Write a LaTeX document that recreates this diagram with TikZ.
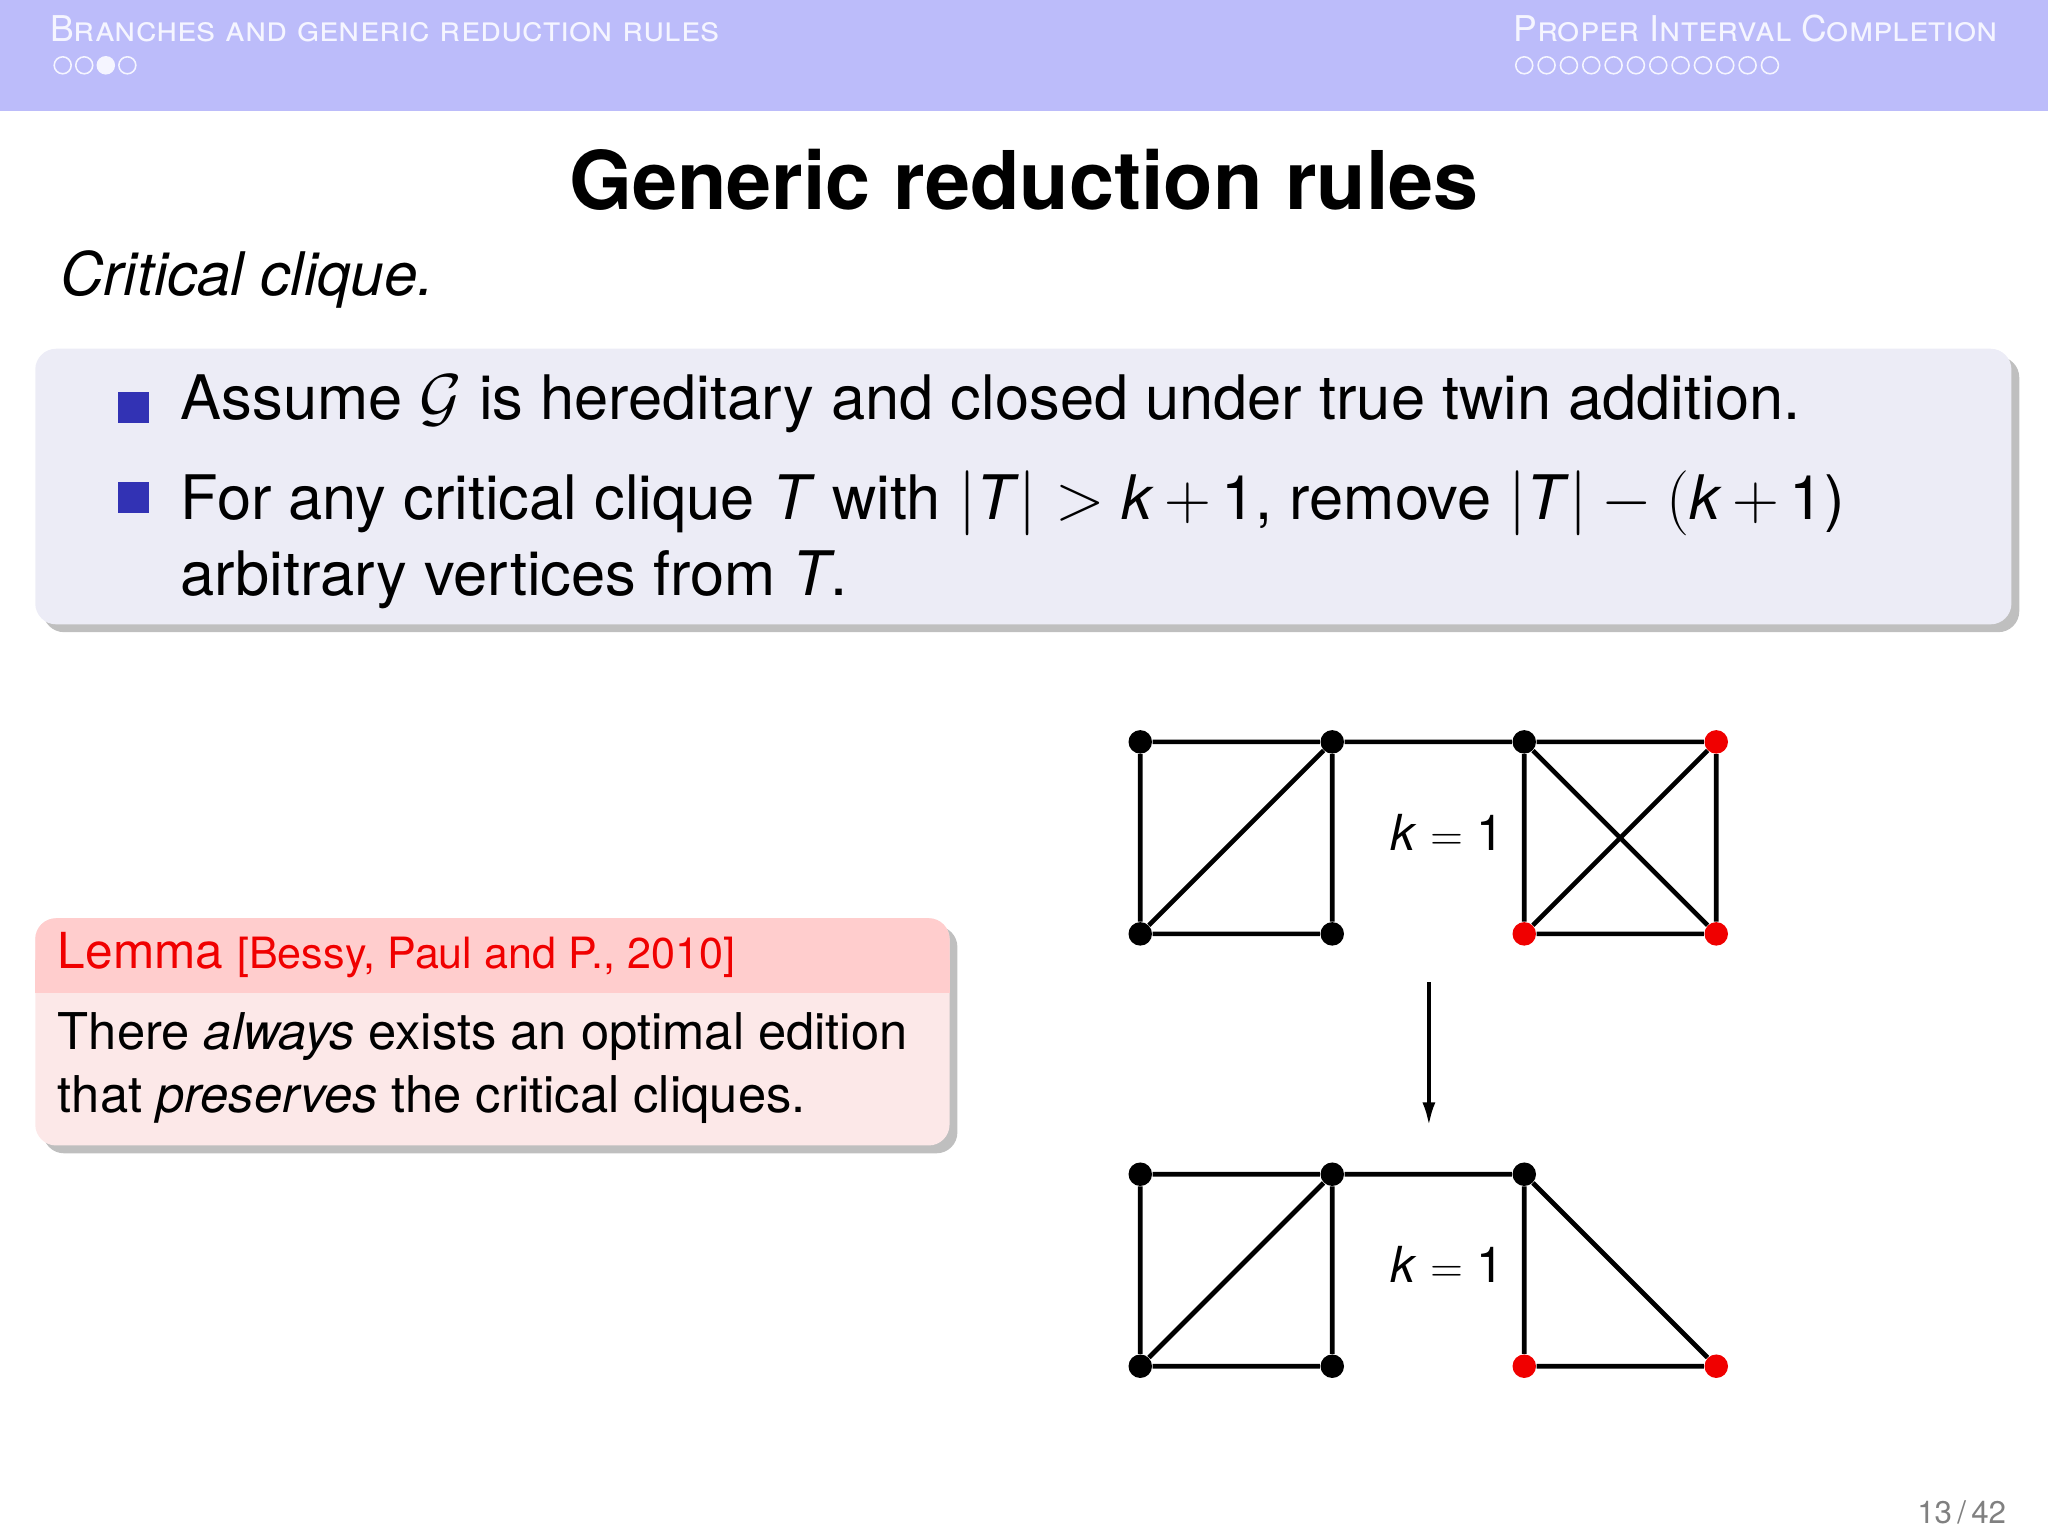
\documentclass[tikz,border=0pt]{standalone}
\usepackage{fontspec}
\setmainfont{TeX Gyre Heros}
\usetikzlibrary{shadows,arrows.meta}
\definecolor{headbg}{RGB}{188,188,250}
\definecolor{headtx}{RGB}{245,245,255}
\definecolor{boxbg}{RGB}{236,236,246}
\definecolor{bulblue}{RGB}{50,50,180}
\definecolor{lemhead}{RGB}{255,205,205}
\definecolor{lembody}{RGB}{252,232,232}
\definecolor{vred}{RGB}{240,0,0}
\newcommand{\vT}{\textit{T}}
\newcommand{\vk}{\textit{k}}
\tikzset{
  vtx/.style={circle,fill=black,inner sep=0pt,minimum size=9pt},
  rvtx/.style={vtx,fill=vred},
  edge/.style={line width=1.8pt},
  hdot/.style={circle,draw=headtx,line width=0.6pt,inner sep=0pt,minimum size=6.5pt}
}
\begin{document}
\begin{tikzpicture}[x=0.5pt,y=0.5pt,yscale=-1,xscale=1]
\useasboundingbox (0,0) rectangle (1568,1176);
%Header band
\fill[headbg] (0,0) rectangle (1568,85);
\node[anchor=west,text=headtx,font=\fontsize{13.6}{15}\selectfont\scshape,inner sep=0pt] (lhead) at (38,22) {Branches and generic reduction rules};
\node[anchor=east,text=headtx,font=\fontsize{13.6}{15}\selectfont\scshape,inner sep=0pt] (rhead) at (1530,22) {Proper Interval Completion};
\foreach \i in {0,...,3} \node[hdot] (ld\i) at (48+16.5*\i,50) {};
\fill[headtx] (ld2) circle (3.2pt);
\foreach \i in {0,...,11} \node[hdot] (rd\i) at (1167+17.1*\i,50) {};

% Title
\node[font=\fontsize{31}{36}\selectfont\bfseries] (title) at (784,138) {Generic reduction rules};
\node[anchor=west,font=\fontsize{23}{26}\selectfont\itshape,inner sep=0pt] (crit) at (46,214) {Critical clique.};

%Block
\fill[boxbg,rounded corners=8pt,drop shadow={shadow xshift=3pt,shadow yshift=-3pt,opacity=0.5}] (27,267) rectangle (1540,478);
\fill[bulblue] (90,300) rectangle (114,324);
\fill[bulblue] (90,369) rectangle (114,393);
\node[anchor=west,inner sep=0pt,font=\fontsize{23.5}{28}\selectfont] (b1) at (138,309) {Assume $\mathcal{G}$ is hereditary and closed under true twin addition.};
\node[anchor=north west,inner sep=0pt,align=left,font=\fontsize{23.5}{29}\selectfont] (b2) at (138,360) {For any critical clique \vT{} with $|$\vT$|>$ \vk\,$+$\,1, remove $|$\vT$|-($\vk\,$+$\,1)\\arbitrary vertices from \vT.};

%Lemma
\fill[lembody,rounded corners=8pt,drop shadow={shadow xshift=3pt,shadow yshift=-3pt,opacity=0.5}] (27,703) rectangle (727,877);
\fill[lemhead,rounded corners=8pt] (27,703) rectangle (727,760);
\fill[lemhead] (27,735) rectangle (727,760);
\node[anchor=west,inner sep=0pt,text=vred,font=\fontsize{19}{22}\selectfont] (lem) at (44,731) {Lemma {\fontsize{16.5}{18}\selectfont[Bessy, Paul and P., 2010]}};
\node[anchor=north west,inner sep=0pt,align=left,font=\fontsize{19.4}{24}\selectfont] (lemtxt) at (44,775) {There \emph{always} exists an optimal edition\\that \emph{preserves} the critical cliques.};

%Top graph
\node[vtx] (a1) at (873,568) {};
\node[vtx] (a2) at (1020,568) {};
\node[vtx] (a3) at (1167,568) {};
\node[rvtx] (a4) at (1314,568) {};
\node[vtx] (a5) at (873,715) {};
\node[vtx] (a6) at (1020,715) {};
\node[rvtx] (a7) at (1167,715) {};
\node[rvtx] (a8) at (1314,715) {};
\draw[edge] (a1) -- (a2) -- (a3) -- (a4) -- (a8) -- (a7) -- (a3) -- (a8);
\draw[edge] (a4) -- (a7);
\draw[edge] (a1) -- (a5) -- (a6) -- (a2) -- (a5);
\node[font=\fontsize{19}{22}\selectfont] (k1) at (1108,637) {\vk\ $=$ 1};

%Arrow
\coordinate (ar1) at (1094,752);
\coordinate (ar2) at (1094,862);
\draw[line width=1.5pt,-{Latex[length=9pt,width=5pt]}] (ar1) -- (ar2);

%Bottom graph
\node[vtx] (c1) at (873,899) {};
\node[vtx] (c2) at (1020,899) {};
\node[vtx] (c3) at (1167,899) {};
\node[vtx] (c5) at (873,1046) {};
\node[vtx] (c6) at (1020,1046) {};
\node[rvtx] (c7) at (1167,1046) {};
\node[rvtx] (c8) at (1314,1046) {};
\draw[edge] (c1) -- (c2) -- (c3) -- (c7) -- (c8) -- (c3);
\draw[edge] (c1) -- (c5) -- (c6) -- (c2) -- (c5);
\node[font=\fontsize{19}{22}\selectfont] (k2) at (1108,968) {\vk\ $=$ 1};

% Page number
\node[anchor=east,text=gray,font=\fontsize{12}{14}\selectfont] (pg) at (1543,1158) {13\,/\,42};
\end{tikzpicture}
\end{document}
